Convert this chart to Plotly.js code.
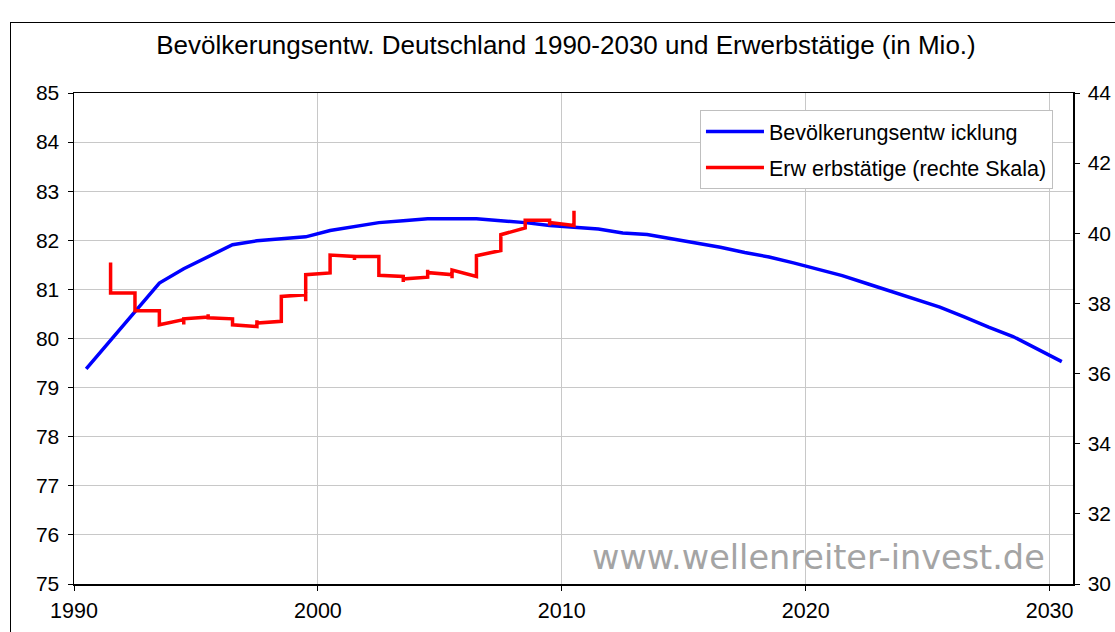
<!DOCTYPE html>
<html><head><meta charset="utf-8">
<script src="https://cdn.plot.ly/plotly-3.0.1.min.js"></script>
<style>
html,body{margin:0;padding:0;background:#fff;overflow:hidden;}
#wrap{position:relative;width:1115px;height:632px;}
#chart{width:1115px;height:632px;}
#frame{position:absolute;left:10px;top:22px;width:1200px;height:700px;border:1px solid #000;pointer-events:none;}
</style></head><body>
<div id="wrap"><div id="chart"></div><div id="frame"></div></div>
<script>
const chartTitle = 'Bevölkerungsentw. Deutschland 1990-2030 und Erwerbstätige (in Mio.)';
const popName = 'Bevölkerungsentw icklung';
const empName = 'Erw erbstätige (rechte Skala)';
const watermark = 'www.wellenreiter-invest.de';

// Population (left scale), mid-year points
const popYears = [1990.5,1991.5,1992.5,1993.5,1994.5,1995.5,1996.5,1997.5,1998.5,1999.5,
  2000.5,2001.5,2002.5,2003.5,2004.5,2005.5,2006.5,2007.5,2008.5,2009.5,
  2010.5,2011.5,2012.5,2013.5,2014.5,2015.5,2016.5,2017.5,2018.5,2019.5,
  2020.5,2021.5,2022.5,2023.5,2024.5,2025.5,2026.5,2027.5,2028.5,2029.5,2030.5];
const popValues = [79.38,79.96,80.55,81.13,81.42,81.67,81.91,81.99,82.03,82.07,
  82.20,82.28,82.36,82.40,82.44,82.44,82.44,82.40,82.36,82.30,
  82.26,82.23,82.15,82.12,82.03,81.95,81.86,81.75,81.66,81.54,
  81.41,81.28,81.12,80.96,80.80,80.64,80.44,80.23,80.04,79.79,79.53];

// Employed persons (right scale), stepped line vertices
const empYears = [1991.5,1991.5, 1992.5,1992.5, 1993.5,1993.5, 1994.5,1994.5,1994.5,
  1995.5,1995.5,1995.5, 1996.5,1996.5, 1997.5,1997.5,1997.5, 1998.5,1998.5,
  1999.5,1999.5,1999.5, 2000.5,2000.5, 2001.5,2001.5,2001.5, 2002.5,2002.5,
  2003.5,2003.5,2003.5, 2004.5,2004.5,2004.5, 2005.5,2005.5,2005.5,
  2006.5,2006.5, 2007.5,2007.5, 2008.5,2008.5, 2009.5,2009.5,2009.5, 2010.5,2010.5];
const empValues = [39.17,38.30, 38.30,37.79, 37.79,37.39, 37.54,37.40,37.56,
  37.61,37.69,37.59, 37.56,37.39, 37.34,37.52,37.44, 37.49,38.20,
  38.25,38.06,38.82, 38.87,39.38, 39.34,39.24,39.34, 39.34,38.80,
  38.77,38.61,38.70, 38.75,38.96,38.88, 38.82,38.72,38.95,
  38.77,39.36, 39.51,39.96, 40.15,40.37, 40.37,40.22,40.31, 40.22,40.64];

const xTicks = [1990,2000,2010,2020,2030];
const leftTicks = [75,76,77,78,79,80,81,82,83,84,85];
const rightTicks = [30,32,34,36,38,40,42,44];

const FONT = 'Liberation Sans, Arial, sans-serif';

const traces = [
  {x: popYears, y: popValues, type: 'scatter', mode: 'lines', name: popName,
   line: {color: '#0000FF', width: 3.5}, legendgroup: 'a', yaxis: 'y'},
  {x: empYears, y: empValues, type: 'scatter', mode: 'lines', name: empName,
   line: {color: '#FF0000', width: 3.5}, legendgroup: 'b', yaxis: 'y2'}
];

const layout = {
  width: 1115, height: 632,
  margin: {l: 74, r: 42, t: 93, b: 48, pad: 0},
  paper_bgcolor: '#ffffff', plot_bgcolor: '#ffffff',
  font: {family: FONT, color: '#000', size: 20},
  title: {text: chartTitle, font: {family: FONT, size: 26, color: '#000'},
    x: 566/1115, xanchor: 'center', xref: 'container',
    y: 1 - 45/632, yanchor: 'middle', yref: 'container'},
  showlegend: true,
  legend: {x: 0.6266, y: 0.9654, xanchor: 'left', yanchor: 'top',
    bgcolor: '#ffffff', bordercolor: '#BFBFBF', borderwidth: 1,
    font: {family: FONT, size: 21.5, color: '#000'},
    itemwidth: 58,
    tracegroupgap: 5, traceorder: 'grouped'},
  xaxis: {range: [1990, 2030.96], tickvals: xTicks, ticktext: xTicks.map(String),
    showgrid: true, gridcolor: '#C8C8C8', gridwidth: 1,
    showline: true, linecolor: '#000', linewidth: 1.5, mirror: true,
    ticks: 'outside', ticklen: 5, tickcolor: '#000', tickwidth: 1,
    tickfont: {family: FONT, size: 21.5, color: '#000'}, ticklabelstandoff: 2,
    zeroline: false, fixedrange: true},
  yaxis: {range: [75, 85], tickvals: leftTicks, ticktext: leftTicks.map(String),
    showgrid: true, gridcolor: '#C8C8C8', gridwidth: 1,
    showline: true, linecolor: '#000', linewidth: 1.5,
    ticks: 'outside', ticklen: 5, tickcolor: '#000', tickwidth: 1,
    tickfont: {family: FONT, size: 21, color: '#000'}, ticklabelstandoff: 4,
    zeroline: false, fixedrange: true},
  yaxis2: {range: [30, 44], tickvals: rightTicks, ticktext: rightTicks.map(String),
    overlaying: 'y', side: 'right', showgrid: false,
    showline: true, linecolor: '#000', linewidth: 1.5,
    ticks: 'outside', ticklen: 5, tickcolor: '#000', tickwidth: 1,
    tickfont: {family: FONT, size: 21, color: '#000'}, ticklabelstandoff: 4,
    zeroline: false, fixedrange: true},
  annotations: [
    {text: watermark, xref: 'paper', yref: 'paper', x: 0.7457, y: 0.053,
     xanchor: 'center', yanchor: 'middle', showarrow: false,
     font: {family: 'DejaVu Sans, Verdana, sans-serif', size: 33.5, color: '#A4A4A4'}}
  ]
};

Plotly.newPlot('chart', traces, layout, {displayModeBar: false, staticPlot: true});
</script>
</body></html>
